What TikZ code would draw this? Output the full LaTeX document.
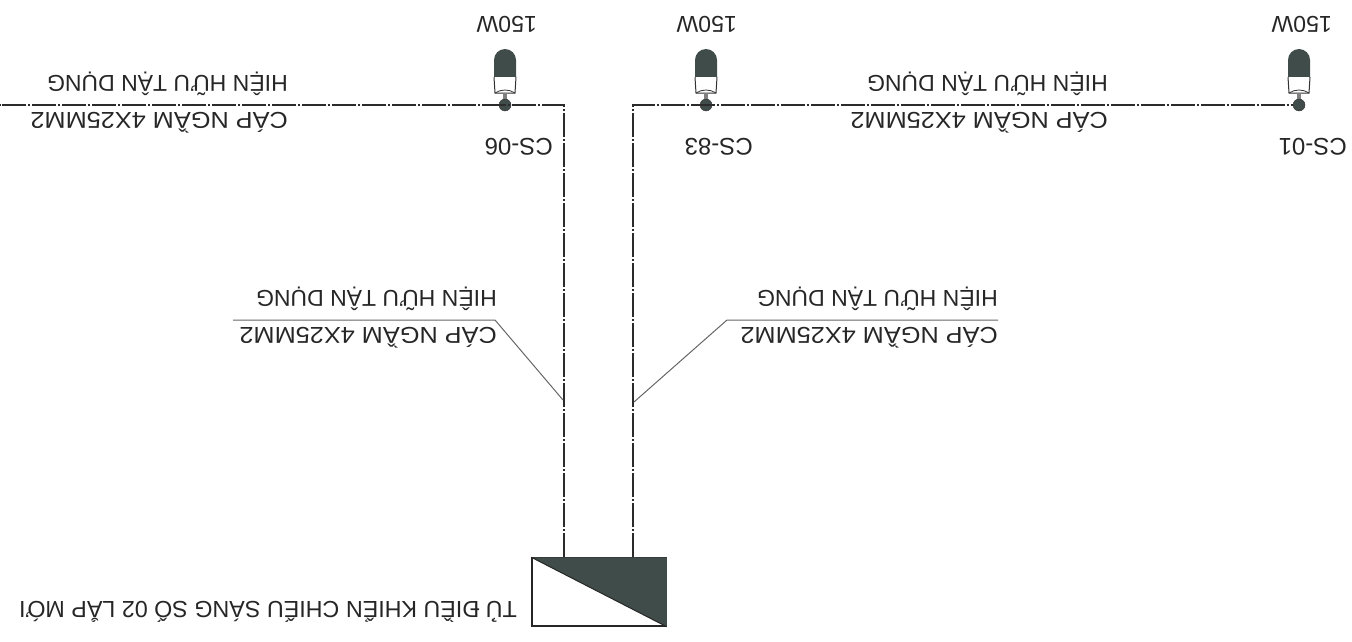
\documentclass[tikz,border=0pt]{standalone}
\usepackage{fontspec}
\setmainfont{Liberation Sans}
\newfontfamily\widefont[FakeStretch=1.1]{Liberation Sans}
\definecolor{lampdark}{HTML}{3F4C49}
\definecolor{wiredark}{HTML}{2B2B2B}
\tikzset{
  cable/.style={wiredark, line width=1.8pt, dash pattern=on 24pt off 2pt on 2pt off 2pt},
  leader/.style={black!60, line width=1pt},
  lbl/.style={rotate=180, inner sep=0pt, anchor=base west, text=black!85, font=\fontsize{23}{23}\selectfont},
  widelbl/.style={lbl, font=\widefont\fontsize{23}{23}\selectfont},
  tag/.style={lbl, font=\fontsize{24}{24}\selectfont},
  lampdot/.style={circle, fill=lampdark, draw=black!80, inner sep=0pt, minimum size=12pt},
  panel/.style={draw=black!85, line width=1.5pt, minimum width=134pt, minimum height=68pt, inner sep=0pt},
}
\begin{document}
\begin{tikzpicture}[x=1pt, y=-1pt]
\useasboundingbox (0,0) rectangle (1352,642);
% Control panel
\node[panel] (cabinet) at (599,592) {};
\fill[lampdark] (cabinet.north west) -- (cabinet.north east) -- (cabinet.south east) -- cycle;
\draw[black!85, line width=1pt] (cabinet.north west) -- (cabinet.south east);
\node[lbl, font=\fontsize{23.3}{23.3}\selectfont] (cabinetlbl) at (517,601) {TỦ ĐIỀU KHIỂN CHIẾU SÁNG SỐ 02 LẮP MỚI};
% Lamps
\foreach \name/\xval/\tagx/\wattx/\tagtxt in {a/505/553/537/CS-06, b/706/753/737/CS-83, c/1299/1347/1332/CS-01}{
  \fill[lampdark] (\xval-11,77) -- (\xval-11,60) arc[start angle=180, end angle=360, radius=11] -- (\xval+11,77) -- cycle; % Head
  \draw[black!80, line width=1pt] (\xval-11,77) -- (\xval-10,93) -- (\xval+10,93) -- (\xval+11,77); % Neck
  \draw[black!80, line width=.8pt] (\xval-10,93) .. controls (\xval-4,89) and (\xval+4,89) .. (\xval+10,93);
  \fill[black!50] (\xval-2,93) rectangle (\xval+2,100); % Stem
  \node[lampdot] (dot\name) at (\xval,105) {};
  \node[tag] (tag\name) at (\tagx,138) {\tagtxt};
  \node[lbl] (watt\name) at (\wattx,17) {150W};
}
% Cables
\coordinate (cornerl) at (564,105);
\coordinate (cornerr) at (633,105);
\coordinate (freeend) at (0,105);
\draw[cable] (cabinet.north -| cornerl) -- (cornerl) -- (freeend);
\draw[cable] (cabinet.north -| cornerr) -- (cornerr) -- (dotc);
% Cable labels
\foreach \name/\xval/\ycap/\yhien in {lefttop/288/112/75, righttop/1108/112/75, leftmid/497/327/290, rightmid/998/327/290}{
  \node[widelbl] (cap\name) at (\xval,\ycap) {CÁP NGẦM 4X25MM2};
  \node[lbl] (hien\name) at (\xval,\yhien) {HIỆN HỮU TẬN DỤNG};
}
% Leaders
\coordinate (kneel) at (495,320);
\coordinate (kneer) at (727,320);
\coordinate (taill) at (233,320);
\coordinate (footl) at (563,400);
\coordinate (footr) at (634,402);
\draw[leader] (footl) -- (kneel) -- (taill);
\draw[leader] (footr) -- (kneer) -- (caprightmid.west |- kneer);
\end{tikzpicture}
\end{document}
